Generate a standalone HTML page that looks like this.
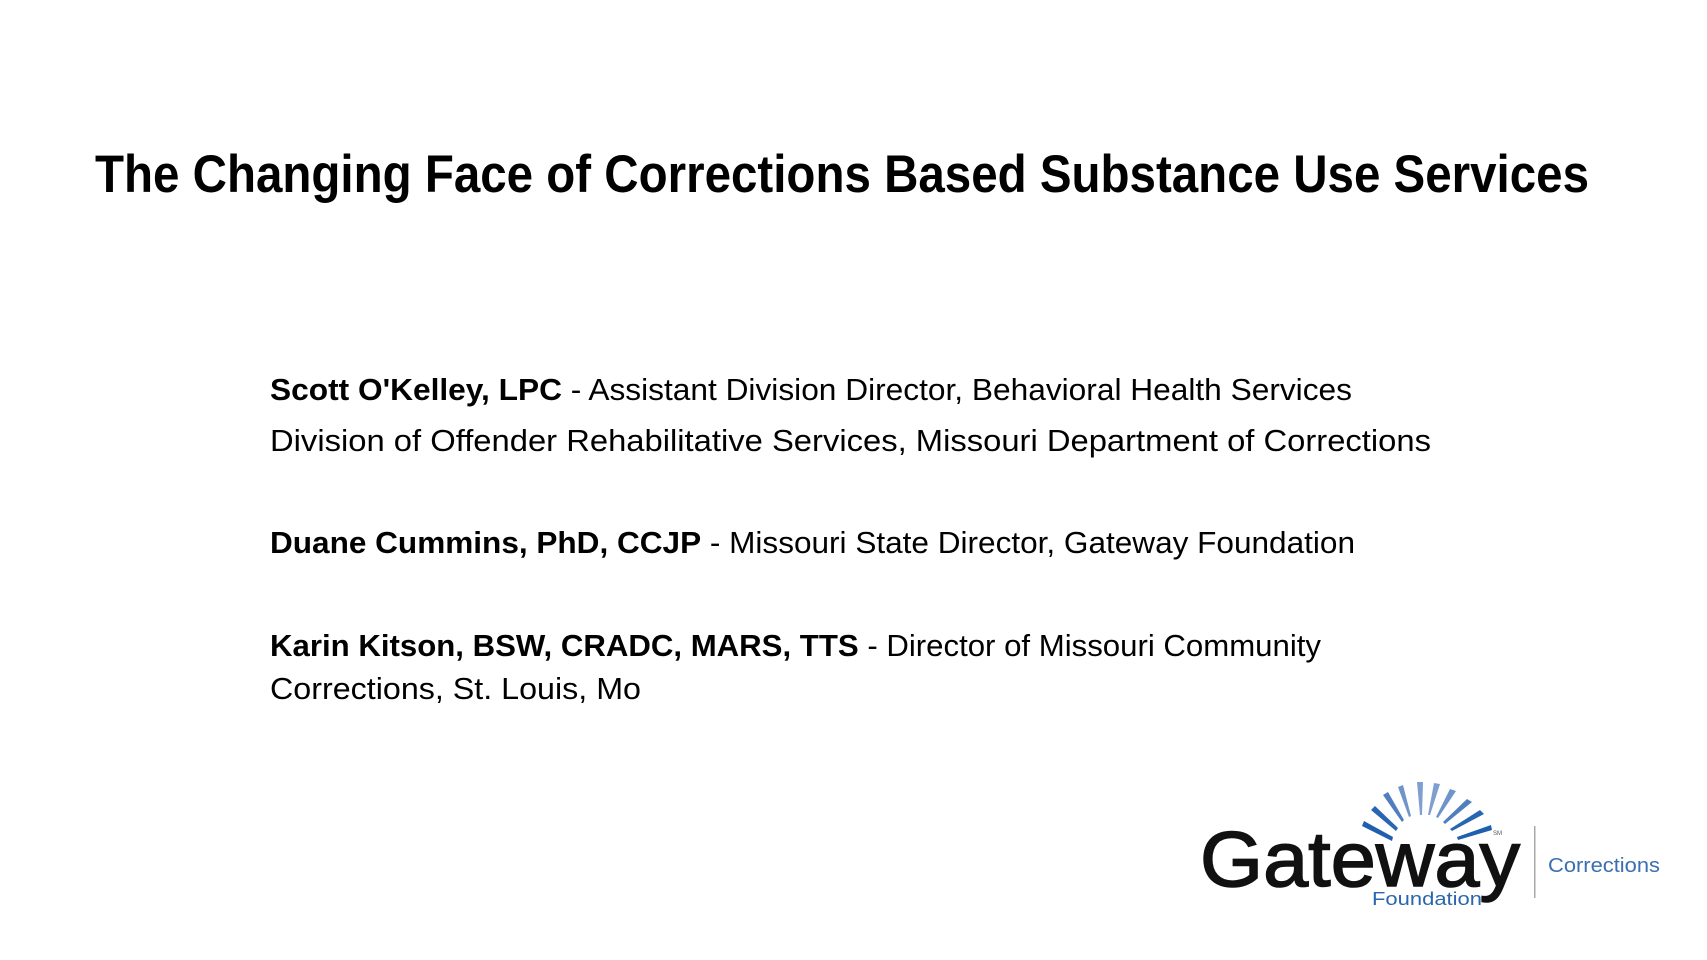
<!DOCTYPE html>
<html><head><meta charset="utf-8"><style>html,body{margin:0;padding:0;background:#fff;}svg{display:block}</style></head>
<body>
<svg width="1707" height="960" viewBox="0 0 1707 960" xmlns="http://www.w3.org/2000/svg" font-family="'Liberation Sans', sans-serif">
<rect width="1707" height="960" fill="#fff"/>
<text x="95" y="192" font-size="53" font-weight="bold" fill="#000" textLength="1494" lengthAdjust="spacingAndGlyphs">The Changing Face of Corrections Based Substance Use Services</text>
<g font-size="31" fill="#000">
<text x="270" y="400" textLength="1082" lengthAdjust="spacingAndGlyphs"><tspan font-weight="bold">Scott O'Kelley, LPC</tspan> - Assistant Division Director, Behavioral Health Services</text>
<text x="270" y="451" textLength="1161" lengthAdjust="spacingAndGlyphs">Division of Offender Rehabilitative Services, Missouri Department of Corrections</text>
<text x="270" y="553" textLength="1085" lengthAdjust="spacingAndGlyphs"><tspan font-weight="bold">Duane Cummins, PhD, CCJP</tspan> - Missouri State Director, Gateway Foundation</text>
<text x="270" y="656" textLength="1051" lengthAdjust="spacingAndGlyphs"><tspan font-weight="bold">Karin Kitson, BSW, CRADC, MARS, TTS</tspan> - Director of Missouri Community</text>
<text x="270" y="699" textLength="371" lengthAdjust="spacingAndGlyphs">Corrections, St. Louis, Mo</text>
</g>
<g id="rays">
<polygon points="1362,826 1364,821 1393,837 1392,841" fill="#1f5fae"/>
<polygon points="1371,810 1375,806 1398,828 1396,831" fill="#2866b2"/>
<polygon points="1383,795 1388,792 1404,820 1402,822" fill="#4f7fbf"/>
<polygon points="1398,787 1403,785 1411,816 1409,817" fill="#6f94cb"/>
<polygon points="1417,782 1423,782 1422,815 1420,815" fill="#7f9fd0"/>
<polygon points="1434,783 1440,784 1430,815 1428,815" fill="#7f9fd0"/>
<polygon points="1450,789 1456,791 1438,818 1436,817" fill="#6f94cb"/>
<polygon points="1467,799 1472,802 1445,824 1443,822" fill="#4f7fbf"/>
<polygon points="1480,810 1484,814 1452,831 1450,829" fill="#2866b2"/>
<polygon points="1491,825 1492,830 1458,840 1457,837" fill="#1f5fae"/>
</g>
<text x="1200" y="886" font-size="78" fill="#111" stroke="#111" stroke-width="1.5" textLength="320" lengthAdjust="spacingAndGlyphs">Gateway</text>
<text x="1493" y="835" font-size="6" fill="#555">SM</text>
<text x="1372" y="905" font-size="18" fill="#2a66ad" textLength="110" lengthAdjust="spacingAndGlyphs">Foundation</text>
<rect x="1534" y="826" width="1.5" height="72" fill="#aaa"/>
<text x="1548" y="872" font-size="20" fill="#3a6fb0" textLength="112" lengthAdjust="spacingAndGlyphs">Corrections</text>
</svg>
</body></html>
